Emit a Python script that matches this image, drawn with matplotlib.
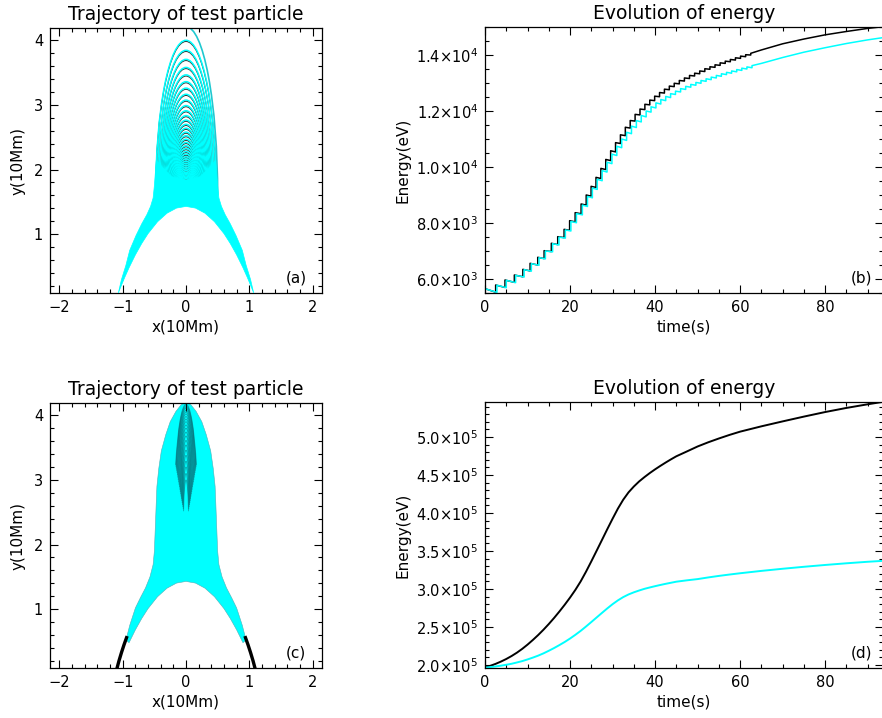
import matplotlib.pyplot as plt
from matplotlib.patches import Arc
from matplotlib.ticker import MultipleLocator

# ---------------- trajectory panels (units of 10 Mm) ----------------
# outer edge of the dense region, left side, bottom -> top
edge_a_x = [-1.07, -1.02, -0.95, -0.89, -0.79, -0.70, -0.62, -0.56, -0.52, -0.50, -0.485, -0.47]
edge_a_y = [0.09, 0.30, 0.52, 0.75, 0.98, 1.16, 1.30, 1.43, 1.56, 1.75, 1.95, 2.15]
top_a_x = [-0.36, -0.22, 0.0]
top_a_y = [2.02, 1.89, 1.84]

edge_c_x = [-0.95, -0.89, -0.80, -0.72, -0.64, -0.57, -0.52, -0.50, -0.49, -0.48, -0.47,
            -0.46, -0.43, -0.39, -0.32, -0.25, -0.16, -0.08, 0.0]
edge_c_y = [0.52, 0.75, 1.02, 1.18, 1.33, 1.50, 1.69, 1.90, 2.15, 2.40, 2.66,
            2.90, 3.18, 3.45, 3.70, 3.90, 4.06, 4.16, 4.21]

# innermost field line (lower arch), centre -> right foot
arch_x = [0.0, 0.15, 0.30, 0.45, 0.60, 0.70, 0.80, 0.90, 0.97, 1.03, 1.07]
arch_y = [1.43, 1.404, 1.325, 1.193, 1.009, 0.856, 0.681, 0.482, 0.329, 0.188, 0.09]

# black particle leg visible in (c), left side
leg_c_x = [-1.09, -1.06, -1.02, -0.98, -0.94]
leg_c_y = [0.09, 0.20, 0.33, 0.45, 0.56]

# bounce loops in (a): apex height and half width
loop_a_top = [4.00, 3.845, 3.705, 3.58, 3.465, 3.36, 3.26, 3.165, 3.075, 2.99, 2.91, 2.835,
              2.765, 2.70, 2.64, 2.58, 2.525, 2.47, 2.42, 2.37, 2.325, 2.28, 2.24, 2.20,
              2.165, 2.13, 2.10, 2.07, 2.04, 2.012, 1.985, 1.96, 1.94, 1.92, 1.90, 1.88, 1.86]
loop_a_w = [0.480, 0.456, 0.433, 0.413, 0.395, 0.379, 0.363, 0.348, 0.333, 0.320, 0.307, 0.295,
            0.284, 0.274, 0.264, 0.254, 0.246, 0.237, 0.229, 0.221, 0.214, 0.207, 0.200, 0.194,
            0.188, 0.183, 0.178, 0.173, 0.169, 0.164, 0.160, 0.156, 0.153, 0.150, 0.146, 0.143, 0.140]
first_top, first_w = 4.21, 0.50

# bounce loops near the top in (c)
loop_c_top = [4.17, 4.15, 4.13, 4.11, 4.08, 4.05, 4.02, 3.98, 3.94, 3.90, 3.85, 3.80,
              3.74, 3.68, 3.61, 3.54, 3.46, 3.38, 3.29, 3.20, 3.10, 3.00]
loop_c_w = [0.19, 0.183, 0.176, 0.168, 0.16, 0.152, 0.144, 0.136, 0.128, 0.12, 0.112, 0.104,
            0.097, 0.09, 0.083, 0.076, 0.07, 0.064, 0.058, 0.052, 0.046, 0.04]

# ---------------- energy, panel (b): staircase ----------------
e_start = 5655
tb_jump = [2.5, 4.7, 6.9, 8.9, 10.6, 12.4, 13.9, 15.6, 17.1, 18.6, 19.9, 21.2, 22.6, 23.8,
           24.95, 26.1, 27.25, 28.4, 29.55, 30.7, 31.85, 33.0, 34.15, 35.3, 36.45, 37.6,
           38.75, 39.9, 41.05, 42.2, 43.35, 44.5, 45.7, 46.9, 48.1, 49.3, 50.5, 51.7, 52.9,
           54.1, 55.3, 56.5, 57.7, 58.9, 60.1, 61.3, 62.5]
eb_bot = [5530, 5700, 5880, 6080, 6290, 6500, 6730, 6980, 7230, 7480, 7740, 8040, 8330, 8640,
          8960, 9270, 9590, 9910, 10230, 10540, 10840, 11120, 11390, 11640, 11860, 12050,
          12220, 12370, 12510, 12640, 12760, 12870, 12970, 13070, 13160, 13250, 13330, 13410,
          13490, 13560, 13630, 13700, 13760, 13820, 13880, 13940, 14000]
eb_top = [5786, 5965, 6143, 6345, 6560, 6775, 7012, 7276, 7512, 7774, 8083, 8369, 8679, 9000,
          9310, 9630, 9950, 10270, 10580, 10870, 11150, 11420, 11660, 11880, 12070, 12240,
          12390, 12530, 12660, 12780, 12890, 12990, 13090, 13180, 13270, 13350, 13430, 13510,
          13580, 13650, 13720, 13780, 13840, 13900, 13960, 14010, 14060]
tb_tail = [65, 70, 75, 80, 85, 90, 93.6]
eb_tail = [14180, 14400, 14570, 14720, 14840, 14950, 15010]

tc_jump = [2.8, 5.0, 7.2, 9.2, 10.9, 12.7, 14.2, 15.9, 17.4, 18.9, 20.2, 21.5, 22.9, 24.1,
           25.25, 26.4, 27.55, 28.7, 29.85, 31.0, 32.15, 33.3, 34.45, 35.6, 36.75, 37.9,
           39.05, 40.2, 41.35, 42.5, 43.65, 44.8, 46.0, 47.2, 48.4, 49.6, 50.8, 52.0, 53.2,
           54.4, 55.6, 56.8, 58.0, 59.2, 60.4, 61.6, 62.8]
ec_bot = [5520, 5690, 5870, 6070, 6280, 6490, 6720, 6970, 7215, 7460, 7715, 8010, 8290, 8590,
          8900, 9200, 9510, 9820, 10120, 10410, 10690, 10950, 11190, 11410, 11610, 11790,
          11960, 12110, 12250, 12370, 12480, 12590, 12680, 12770, 12850, 12920, 12990, 13060,
          13120, 13180, 13240, 13300, 13350, 13400, 13450, 13500, 13545]
ec_top = [5780, 5955, 6133, 6335, 6550, 6765, 7000, 7262, 7495, 7752, 8055, 8335, 8640, 8950,
          9250, 9560, 9870, 10170, 10460, 10740, 11000, 11240, 11460, 11660, 11840, 12000,
          12150, 12290, 12410, 12520, 12620, 12710, 12800, 12880, 12950, 13020, 13090, 13150,
          13210, 13270, 13330, 13380, 13430, 13480, 13530, 13575, 13620]
tc_tail = [65, 70, 75, 80, 85, 90, 93.6]
ec_tail = [13700, 13910, 14100, 14260, 14410, 14540, 14620]

# ---------------- energy, panel (d) (units of 1e5 eV) ----------------
td = [0, 1.25, 2.5, 3.75, 5, 6.25, 7.5, 8.75, 10, 11.25, 12.5, 13.75, 15, 16.25, 17.5,
      18.75, 20, 21.25, 22.5, 23.75, 25, 26.25, 27.5, 28.75, 30, 31.25, 32.5, 33.75, 35,
      36.25, 37.5, 38.75, 40, 41.25, 42.5, 43.75, 45, 47.5, 50, 52.5, 55, 57.5, 60, 65,
      70, 75, 80, 85, 90, 93.6]
ed_black = [1.965, 1.989, 2.015, 2.045, 2.079, 2.118, 2.162, 2.212, 2.268, 2.329, 2.394,
            2.464, 2.539, 2.619, 2.704, 2.793, 2.887, 2.988, 3.100, 3.227, 3.363, 3.503,
            3.644, 3.786, 3.924, 4.057, 4.174, 4.271, 4.348, 4.415, 4.472, 4.525, 4.574,
            4.620, 4.664, 4.706, 4.746, 4.810, 4.875, 4.930, 4.980, 5.027, 5.070, 5.140,
            5.205, 5.268, 5.328, 5.382, 5.430, 5.462]
ed_cyan = [1.965, 1.9725, 1.981, 1.991, 2.003, 2.016, 2.033, 2.051, 2.073, 2.097, 2.123,
           2.153, 2.187, 2.223, 2.262, 2.303, 2.348, 2.397, 2.449, 2.506, 2.565, 2.625,
           2.685, 2.744, 2.800, 2.850, 2.893, 2.928, 2.956, 2.980, 3.002, 3.020, 3.037,
           3.053, 3.068, 3.082, 3.096, 3.114, 3.130, 3.152, 3.172, 3.190, 3.207, 3.238,
           3.266, 3.292, 3.316, 3.338, 3.358, 3.370]

e_ticks_b = [6000, 8000, 10000, 12000, 14000]
e_labels_b = [r'6.0$\times$10$^{3}$', r'8.0$\times$10$^{3}$', r'1.0$\times$10$^{4}$',
              r'1.2$\times$10$^{4}$', r'1.4$\times$10$^{4}$']
e_ticks_d = [2.0, 2.5, 3.0, 3.5, 4.0, 4.5, 5.0]
e_labels_d = [r'%s$\times$10$^{5}$' % s for s in ['2.0', '2.5', '3.0', '3.5', '4.0', '4.5', '5.0']]

CYAN = '#00ffff'


def outline(ex, ey, tx, ty, ax_, ay_):
    xs = list(ex) + list(tx) + [-x for x in tx[::-1][1:]] + [-x for x in ex[::-1]]
    ys = list(ey) + list(ty) + list(ty[::-1][1:]) + list(ey[::-1])
    xs += list(ax_[::-1]) + [-x for x in ax_[1:]]
    ys += list(ay_[::-1]) + list(ay_[1:])
    return xs, ys


def stairs(e0, tj, ebot, etop, ts, es):
    x, y = [0.0], [e0]
    for t, b, u in zip(tj, ebot, etop):
        x += [t, t]
        y += [b, u]
    return x + ts, y + es


def idl_axes(ax):
    ax.tick_params(which='both', direction='in', top=True, right=True, labelsize=10.5,
                   width=0.8, pad=5)
    ax.tick_params(which='major', length=6)
    ax.tick_params(which='minor', length=3)
    for s in ax.spines.values():
        s.set_linewidth(0.9)


def traj_axes(ax, label):
    ax.set_xlim(-2.15, 2.15)
    ax.set_ylim(0.09, 4.19)
    ax.xaxis.set_major_locator(MultipleLocator(1))
    ax.xaxis.set_minor_locator(MultipleLocator(0.2))
    ax.yaxis.set_major_locator(MultipleLocator(1))
    ax.yaxis.set_minor_locator(MultipleLocator(0.2))
    idl_axes(ax)
    ax.set_title('Trajectory of test particle', fontsize=13.5, pad=6)
    ax.set_xlabel('x(10Mm)', fontsize=11, labelpad=3)
    ax.set_ylabel('y(10Mm)', fontsize=11, labelpad=6)
    ax.text(0.905, 0.055, label, transform=ax.transAxes, fontsize=11, ha='center', va='center')


def energy_axes(ax, label):
    ax.set_xlim(0, 93.6)
    ax.xaxis.set_major_locator(MultipleLocator(20))
    ax.xaxis.set_minor_locator(MultipleLocator(5))
    idl_axes(ax)
    ax.set_title('Evolution of energy', fontsize=13.5, pad=6)
    ax.set_xlabel('time(s)', fontsize=11, labelpad=3)
    ax.set_ylabel('Energy(eV)', fontsize=11, labelpad=4)
    ax.text(0.947, 0.057, label, transform=ax.transAxes, fontsize=11, ha='center', va='center')


fig = plt.figure(figsize=(8.82, 7.18), dpi=100)
ax_a = fig.add_axes([0.0567, 0.5919, 0.3084, 0.3691])
ax_b = fig.add_axes([0.5499, 0.5919, 0.4512, 0.3705])
ax_c = fig.add_axes([0.0567, 0.0696, 0.3084, 0.3691])
ax_d = fig.add_axes([0.5499, 0.0696, 0.4512, 0.3705])

# (a)
base = 1.6
for h, w in zip(loop_a_top, loop_a_w):
    ax_a.add_patch(Arc((0, base - 0.018), 2 * w, 2 * (h - base), theta1=0, theta2=180,
                       color='k', lw=0.8, alpha=0.8))
    ax_a.add_patch(Arc((0, base), 2 * w, 2 * (h - base), theta1=0, theta2=180,
                       color=CYAN, lw=1.1))
ax_a.add_patch(Arc((0, base), 2 * first_w, 2 * (first_top - base), theta1=0, theta2=90,
                   color='#20c8d0', lw=1.2))
xa, ya = outline(edge_a_x, edge_a_y, top_a_x, top_a_y, arch_x, arch_y)
ax_a.fill(xa, ya, color=CYAN, lw=0.5, zorder=3)
traj_axes(ax_a, '(a)')

# (c)
ax_c.plot(leg_c_x, leg_c_y, color='k', lw=2.4)
ax_c.plot([-x for x in leg_c_x], leg_c_y, color='k', lw=2.4)
xc, yc = outline(edge_c_x, edge_c_y, [], [], arch_x[:8], arch_y[:8])
ax_c.fill(xc, yc, fc=CYAN, lw=0.4, ec='#50b0b8')
base_c = 2.3
for h, w in zip(loop_c_top, loop_c_w):
    ax_c.add_patch(Arc((0, base_c), 2 * w, 2 * (h - base_c), theta1=80, theta2=100,
                       color='#0a4450', lw=0.6, alpha=0.45, zorder=3))
traj_axes(ax_c, '(c)')

# (b)
xb, yb = stairs(e_start, tb_jump, eb_bot, eb_top, tb_tail, eb_tail)
xcb, ycb = stairs(e_start, tc_jump, ec_bot, ec_top, tc_tail, ec_tail)
ax_b.plot(xb, yb, color='k', lw=1.1)
ax_b.plot(xcb, ycb, color=CYAN, lw=1.1)
ax_b.set_ylim(5500, 15000)
ax_b.set_yticks(e_ticks_b)
ax_b.set_yticklabels(e_labels_b)
ax_b.yaxis.set_minor_locator(MultipleLocator(500))
energy_axes(ax_b, '(b)')

# (d)
ax_d.plot(td, ed_black, color='k', lw=1.4)
ax_d.plot(td, ed_cyan, color=CYAN, lw=1.4)
ax_d.set_ylim(1.96, 5.46)
ax_d.set_yticks(e_ticks_d)
ax_d.set_yticklabels(e_labels_d)
ax_d.yaxis.set_minor_locator(MultipleLocator(0.1))
energy_axes(ax_d, '(d)')

fig.savefig('out.png', dpi=100)
